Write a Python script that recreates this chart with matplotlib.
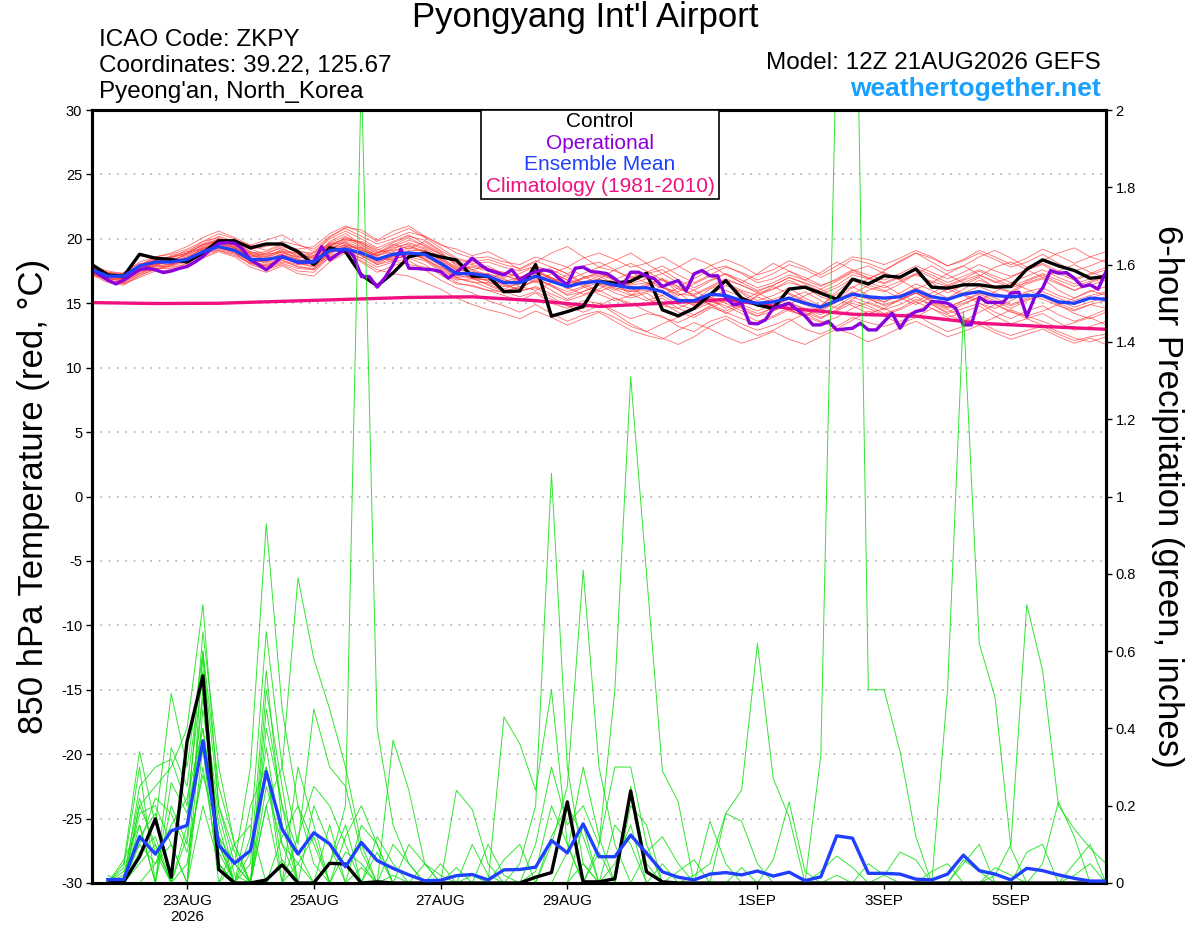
import numpy as np
import matplotlib
matplotlib.use('Agg')
import matplotlib.pyplot as plt
from matplotlib.patches import Rectangle
from matplotlib.ticker import FuncFormatter

plt.rcParams['font.family'] = ['Liberation Sans', 'DejaVu Sans']
plt.rcParams['axes.unicode_minus'] = False

# x axis: hours after 12Z 21AUG2026, 6-hourly out to 384 h
tick_hours = [36, 84, 132, 180, 252, 300, 348]
tick_labels = ['23AUG\n2026', '25AUG', '27AUG', '29AUG', '1SEP', '3SEP', '5SEP']

# 850 hPa temperature (deg C), 6-hourly from hour 0
control_temp = [18.0, 17.2, 17.1, 18.8, 18.5, 18.4, 18.2, 18.9, 19.85, 19.85,
                19.3, 19.6, 19.6, 19.0, 18.0, 19.3, 19.0, 17.2, 16.35, 17.35,
                18.6, 18.9, 18.6, 18.35, 17.1, 17.1, 15.9, 15.95, 18.0, 14.0,
                14.35, 14.75, 16.7, 16.56, 16.7, 17.33, 14.49, 14.02, 14.6, 15.65,
                16.76, 15.39, 14.87, 14.6, 16.1, 16.25, 15.78, 15.31, 16.87, 16.5,
                17.13, 17.02, 17.67, 16.25, 16.17, 16.43, 16.43, 16.25, 16.3, 17.64,
                18.37, 17.9, 17.54, 16.94, 17.07]

mean_temp = [17.6, 17.1, 17.1, 17.9, 18.2, 18.2, 18.4, 19.0, 19.4, 19.1,
             18.4, 18.4, 18.6, 18.2, 18.2, 19.1, 19.2, 18.9, 18.4, 18.8,
             18.9, 18.8, 18.1, 17.3, 17.3, 17.1, 16.6, 16.6, 17.1, 16.7,
             16.3, 16.6, 16.7, 16.4, 16.2, 16.2, 15.9, 15.2, 15.2, 15.7,
             15.6, 15.2, 15.0, 15.1, 15.4, 15.0, 14.7, 15.2, 15.7, 15.5,
             15.4, 15.5, 16.0, 15.5, 15.3, 15.7, 15.9, 15.6, 15.5, 15.6,
             15.6, 15.1, 15.0, 15.4, 15.3]

# operational run is 3-hourly
oper_temp = [17.59, 17.2, 16.8, 16.5, 16.8, 17.2, 17.6, 17.72, 17.6, 17.38,
             17.5, 17.7, 17.85, 18.2, 18.63, 19.2, 19.66, 19.7, 19.66, 19.2,
             18.37, 18.0, 17.59, 18.1, 18.63, 18.4, 18.16, 18.2, 18.24, 19.4,
             18.37, 18.8, 19.2, 18.7, 17.07, 17.07, 16.25, 17.0, 18.0, 19.2,
             17.72, 17.7, 17.64, 17.6, 17.46, 16.95, 17.4, 17.9, 18.5, 18.0,
             17.59, 17.4, 17.2, 17.6, 16.8, 17.2, 17.46, 17.59, 17.46, 16.9,
             16.43, 17.72, 17.8, 17.46, 17.4, 17.3, 16.9, 16.35, 17.41, 17.41,
             17.1, 16.9, 16.3, 16.55, 16.76, 15.96, 17.28, 17.54, 17.13, 17.13,
             15.39, 14.87, 15.0, 13.45, 13.4, 13.71, 14.62, 14.8, 15.0, 14.5,
             14.02, 13.32, 13.32, 13.58, 12.93, 13.0, 13.06, 13.45, 12.93, 12.93,
             13.58, 14.23, 13.06, 13.97, 14.36, 14.49, 15.13, 15.1, 15.0, 14.62,
             13.32, 13.32, 15.47, 15.06, 15.06, 15.06, 15.78, 15.86, 13.97, 15.47,
             16.17, 17.54, 17.33, 17.38, 16.94, 16.3, 16.43, 16.09, 17.46]

# climatology, daily
clim_temp = [15.05, 14.98, 15.0, 15.15, 15.3, 15.45, 15.5, 15.2, 14.75,
             15.0, 15.3, 14.6, 14.15, 14.0, 13.45, 13.2, 12.98]

member_temps = [
    [17.5, 17.0, 16.8, 17.6, 18.0, 18.3, 18.8, 19.6, 20.2, 19.8, 19.0, 18.6, 19.2, 18.8, 18.5, 19.8, 20.4, 19.6, 18.8, 19.5,
     20.1, 19.4, 18.8, 18.0, 17.6, 17.9, 17.2, 16.8, 17.5, 16.9, 16.2, 17.0, 17.4, 16.8, 16.0, 16.5, 16.9, 15.8, 15.0, 15.6,
     16.4, 15.9, 15.2, 15.6, 16.2, 15.4, 14.8, 15.9, 16.8, 16.2, 15.9, 16.5, 17.3, 16.6, 15.8, 16.4, 17.0, 16.2, 15.8, 16.5,
     16.9, 16.0, 15.4, 15.9, 16.3],
    [17.2, 16.6, 16.4, 17.2, 17.6, 17.9, 18.2, 18.8, 19.2, 18.9, 18.0, 17.6, 18.0, 17.5, 17.4, 18.6, 19.0, 18.5, 17.8, 18.2,
     18.5, 18.0, 17.2, 16.5, 16.4, 16.0, 15.6, 15.2, 15.8, 15.0, 14.6, 15.2, 15.0, 14.4, 13.8, 14.2, 14.0, 13.2, 12.8, 13.6,
     14.0, 13.4, 12.9, 13.3, 13.8, 13.0, 12.6, 13.2, 13.9, 13.5, 13.2, 13.6, 14.1, 13.4, 12.8, 13.2, 13.6, 12.9, 12.5, 12.9,
     13.2, 12.6, 12.1, 12.4, 12.6],
    [17.8, 17.4, 17.3, 18.2, 18.6, 18.8, 19.2, 19.8, 20.1, 19.7, 19.2, 19.4, 19.8, 19.5, 19.2, 20.2, 20.8, 20.2, 19.6, 20.0,
     20.5, 20.2, 19.6, 18.9, 18.5, 18.6, 18.2, 18.0, 18.6, 18.2, 17.8, 18.5, 18.9, 18.4, 17.8, 18.1, 18.6, 17.9, 17.2, 17.9,
     18.4, 17.9, 17.2, 17.6, 18.3, 17.8, 17.2, 17.9, 18.6, 18.4, 18.0, 18.5, 19.1, 18.6, 17.9, 18.3, 18.9, 18.4, 17.8, 18.2,
     18.8, 18.1, 17.5, 17.9, 18.4],
    [17.6, 17.2, 16.9, 17.5, 18.1, 18.0, 18.5, 19.3, 19.9, 19.4, 18.5, 17.8, 18.2, 17.9, 17.6, 18.8, 19.4, 19.2, 18.6, 18.3,
     18.0, 17.8, 17.4, 16.8, 16.9, 16.5, 16.0, 16.2, 16.8, 16.4, 15.6, 15.9, 16.4, 16.9, 16.3, 15.4, 14.8, 14.6, 15.2, 16.1,
     16.6, 15.8, 14.9, 14.4, 14.9, 15.6, 16.1, 15.4, 14.8, 14.2, 14.6, 15.3, 15.8, 15.1, 14.6, 15.0, 15.5, 14.9, 14.3, 14.0,
     14.4, 14.9, 14.2, 13.8, 14.3],
    [17.9, 17.3, 17.2, 17.8, 17.9, 18.4, 18.1, 18.9, 19.6, 19.3, 18.7, 18.9, 19.3, 18.6, 18.9, 19.5, 19.0, 18.5, 18.9, 19.6,
     19.2, 19.8, 19.0, 17.9, 17.0, 16.8, 17.4, 17.1, 16.6, 17.3, 17.8, 17.1, 16.5, 16.0, 16.6, 17.2, 16.4, 15.6, 16.0, 15.3,
     14.6, 15.2, 15.8, 15.2, 14.5, 14.0, 14.8, 15.7, 16.3, 15.6, 15.1, 15.8, 16.5, 16.0, 15.4, 16.1, 16.8, 16.3, 15.9, 16.7,
     17.2, 16.6, 16.0, 16.6, 17.0],
    [17.4, 16.8, 16.5, 17.0, 17.5, 17.6, 17.9, 18.5, 19.0, 18.6, 17.8, 17.4, 17.9, 17.3, 17.1, 18.2, 18.9, 18.2, 17.4, 17.9,
     18.3, 17.6, 16.8, 16.2, 15.8, 15.2, 14.8, 14.3, 14.9, 14.2, 13.6, 14.1, 14.4, 13.9, 13.2, 12.8, 13.4, 13.9, 14.6, 15.2,
     14.8, 14.2, 13.6, 14.0, 14.7, 14.3, 13.8, 14.5, 15.2, 14.8, 14.2, 14.6, 15.3, 14.9, 14.2, 14.6, 15.0, 14.3, 13.8, 14.4,
     14.8, 14.1, 13.6, 14.0, 14.5],
    [17.7, 17.1, 17.0, 17.7, 18.3, 18.4, 18.7, 19.4, 19.9, 19.5, 18.8, 18.3, 18.9, 18.6, 18.4, 19.6, 20.0, 19.4, 18.7, 19.2,
     19.7, 19.3, 18.6, 17.7, 17.8, 17.5, 17.0, 17.3, 17.9, 17.4, 16.8, 17.3, 17.8, 17.5, 17.0, 17.4, 17.9, 17.2, 16.6, 17.2,
     17.8, 17.4, 16.8, 17.3, 18.0, 17.6, 17.0, 17.6, 18.4, 18.1, 17.6, 18.2, 18.9, 18.5, 17.9, 18.4, 19.1, 18.6, 18.0, 18.5,
     19.2, 18.7, 18.1, 18.6, 19.0],
    [17.5, 16.9, 16.7, 17.4, 17.8, 18.1, 18.6, 19.2, 19.5, 19.0, 18.2, 18.0, 18.4, 17.8, 17.7, 19.0, 19.6, 19.1, 18.5, 18.9,
     19.0, 18.4, 17.6, 16.9, 16.7, 16.2, 15.8, 15.9, 16.3, 15.7, 15.2, 15.6, 16.0, 15.4, 14.8, 15.0, 15.4, 14.6, 14.1, 14.8,
     15.3, 14.7, 14.2, 14.6, 15.1, 14.5, 13.9, 14.4, 15.0, 14.6, 14.1, 14.5, 15.1, 14.6, 13.9, 14.3, 14.8, 14.0, 13.4, 13.8,
     14.2, 13.5, 12.9, 13.2, 13.6],
    [17.6, 17.0, 17.2, 18.0, 18.4, 18.2, 18.9, 19.5, 20.0, 19.6, 18.9, 18.5, 19.0, 18.9, 18.6, 19.4, 19.9, 19.8, 19.2, 18.8,
     19.3, 19.0, 18.4, 17.6, 16.9, 17.3, 16.9, 16.3, 16.0, 16.6, 17.2, 16.5, 15.9, 16.4, 17.1, 16.6, 15.8, 15.2, 14.9, 15.5,
     15.0, 14.4, 14.0, 14.7, 15.4, 15.9, 15.2, 14.6, 15.3, 16.0, 16.4, 15.7, 15.1, 15.8, 16.4, 15.7, 15.2, 15.9, 16.6, 16.1,
     15.5, 14.9, 15.4, 16.0, 15.6],
    [17.3, 16.8, 16.6, 17.3, 17.9, 17.8, 18.0, 18.6, 19.1, 18.8, 18.1, 17.9, 18.3, 18.0, 18.1, 19.3, 19.7, 19.0, 18.2, 18.6,
     19.1, 19.1, 18.3, 17.4, 17.2, 16.9, 16.4, 16.1, 16.9, 16.4, 15.9, 16.3, 16.8, 16.1, 15.6, 15.9, 16.3, 15.4, 14.8, 15.4,
     16.0, 15.5, 15.0, 15.3, 15.8, 15.2, 14.5, 15.1, 15.8, 15.4, 15.1, 15.6, 16.2, 15.6, 15.2, 15.8, 16.3, 15.8, 15.4, 15.9,
     16.2, 15.6, 15.2, 15.6, 15.9],
    [17.8, 17.2, 16.9, 17.5, 18.2, 18.5, 18.9, 19.8, 20.4, 20.0, 19.2, 18.8, 19.4, 19.0, 18.9, 20.0, 20.6, 20.0, 19.3, 19.8,
     20.3, 19.6, 18.9, 18.1, 17.6, 17.2, 16.5, 16.0, 16.2, 15.5, 14.8, 14.6, 15.0, 14.2, 13.4, 12.8, 12.3, 11.8, 12.4, 13.2,
     13.8, 13.1, 12.5, 12.9, 13.6, 14.2, 13.6, 13.0, 13.7, 14.4, 14.0, 13.4, 13.9, 14.6, 14.1, 13.6, 14.3, 14.9, 14.4, 13.8,
     13.3, 12.8, 12.3, 12.0, 12.4],
    [17.4, 17.0, 16.9, 17.8, 18.3, 18.1, 18.3, 19.1, 19.7, 19.3, 18.6, 18.8, 19.0, 18.4, 18.3, 19.3, 19.5, 18.8, 18.1, 18.7,
     18.7, 18.6, 18.0, 17.1, 17.4, 17.3, 16.8, 16.6, 17.2, 16.9, 16.5, 16.9, 17.2, 16.8, 16.5, 16.9, 17.3, 16.6, 16.0, 16.7,
     17.3, 16.8, 16.2, 16.6, 17.2, 16.8, 16.3, 16.9, 17.6, 17.2, 16.8, 17.3, 17.9, 17.4, 16.9, 17.4, 18.0, 17.5, 17.1, 17.6,
     18.0, 17.3, 16.8, 17.2, 17.6],
    [17.7, 17.3, 17.0, 17.6, 18.0, 18.2, 18.5, 19.0, 19.3, 19.1, 18.5, 18.1, 18.5, 18.3, 18.2, 19.2, 19.8, 19.3, 18.5, 18.4,
     18.8, 18.7, 17.9, 17.0, 16.6, 16.6, 16.3, 16.5, 17.0, 16.3, 15.7, 16.2, 16.6, 16.2, 15.9, 16.0, 15.6, 14.9, 14.5, 15.0,
     15.4, 14.9, 14.4, 14.9, 15.3, 14.9, 14.4, 15.1, 15.7, 15.3, 14.9, 15.3, 15.8, 15.2, 14.7, 15.2, 15.7, 15.2, 14.8, 15.3,
     15.6, 15.0, 14.5, 14.9, 15.2],
    [17.6, 17.1, 17.0, 17.8, 18.4, 18.6, 18.9, 19.5, 20.0, 19.5, 18.9, 19.0, 19.5, 19.2, 19.4, 20.4, 21.0, 20.5, 19.8, 20.3,
     20.8, 20.1, 19.3, 18.5, 18.2, 18.4, 18.0, 17.7, 18.3, 17.8, 17.3, 17.9, 18.2, 17.6, 16.9, 17.3, 17.6, 16.8, 16.2, 16.8,
     17.3, 16.6, 16.0, 16.4, 17.0, 16.5, 15.9, 16.4, 17.2, 16.9, 16.5, 17.0, 17.6, 17.0, 16.4, 16.9, 17.5, 16.9, 16.3, 16.8,
     17.3, 16.8, 16.3, 16.7, 17.1],
    [17.3, 16.9, 16.8, 17.6, 17.9, 18.0, 18.3, 18.9, 19.3, 18.9, 18.3, 18.2, 18.8, 18.4, 18.0, 19.0, 19.3, 18.7, 18.0, 18.5,
     18.6, 18.3, 17.5, 16.6, 16.3, 16.0, 15.9, 16.3, 16.7, 16.0, 15.3, 15.9, 16.4, 15.8, 15.4, 15.8, 15.0, 14.3, 13.9, 14.6,
     15.2, 14.6, 14.0, 14.4, 15.0, 14.6, 14.1, 14.8, 15.5, 15.0, 14.5, 14.9, 15.5, 14.9, 14.3, 14.9, 15.5, 15.1, 14.6, 15.2,
     15.7, 15.2, 14.7, 15.1, 15.5],
    [17.8, 17.4, 17.2, 18.0, 18.5, 18.6, 18.8, 19.3, 19.6, 19.2, 18.6, 18.6, 19.0, 18.5, 18.7, 19.6, 19.7, 19.1, 18.7, 19.3,
     19.6, 19.2, 18.4, 17.6, 17.5, 17.1, 16.7, 17.0, 17.6, 17.0, 16.5, 17.0, 17.3, 16.9, 16.4, 16.6, 16.2, 15.7, 15.6, 16.2,
     16.8, 16.4, 15.8, 16.1, 16.6, 16.3, 15.7, 16.2, 16.9, 16.6, 16.2, 16.7, 17.2, 16.7, 16.3, 16.8, 17.2, 16.7, 16.2, 16.6,
     17.0, 16.5, 16.0, 16.4, 16.8],
    [17.2, 16.9, 17.4, 18.1, 18.0, 18.7, 19.0, 19.2, 19.8, 19.9, 19.5, 19.9, 20.3, 19.6, 19.0, 20.1, 20.9, 20.7, 19.9, 20.6,
     21.0, 20.2, 19.5, 19.2, 18.7, 19.0, 18.4, 17.6, 18.2, 18.9, 19.4, 18.6, 17.8, 18.3, 18.9, 18.1, 17.3, 17.8, 18.5, 18.0,
     17.2, 16.6, 17.3, 18.1, 17.5, 16.8, 17.4, 18.2, 17.6, 16.9, 17.5, 18.3, 18.9, 18.2, 17.5, 17.9, 18.6, 19.1, 18.5, 17.8,
     18.3, 18.9, 19.3, 18.6, 18.2],
    [17.5, 17.0, 16.6, 17.3, 17.7, 17.9, 18.4, 18.9, 19.1, 18.7, 18.1, 17.7, 18.1, 17.7, 17.6, 18.6, 19.0, 18.3, 17.6, 17.3,
     17.1, 16.6, 16.1, 15.4, 14.9, 14.5, 14.2, 13.8, 14.4, 13.9, 13.3, 13.8, 14.3, 13.6, 12.9, 12.5, 12.2, 12.9, 13.5, 13.0,
     12.4, 11.9, 12.3, 12.8, 12.2, 11.8, 12.4, 13.0, 12.6, 12.0, 12.5, 13.1, 13.6, 13.0, 12.4, 12.8, 13.3, 12.7, 12.2, 12.6,
     13.0, 12.4, 11.9, 12.3, 11.8],
    [17.9, 17.5, 17.3, 17.9, 18.6, 18.9, 19.4, 20.1, 20.6, 20.1, 19.5, 19.1, 19.6, 19.1, 18.7, 19.7, 20.2, 19.5, 18.9, 19.4,
     19.9, 19.5, 18.8, 18.2, 18.0, 17.7, 17.4, 17.0, 17.3, 17.6, 17.0, 16.3, 15.7, 15.2, 15.6, 16.4, 16.9, 16.3, 15.5, 14.9,
     14.2, 14.8, 15.6, 16.3, 15.7, 15.1, 14.7, 15.4, 16.2, 16.9, 17.4, 16.8, 16.1, 16.6, 17.3, 17.9, 17.2, 16.6, 17.0, 17.6,
     18.1, 17.5, 16.9, 17.3, 17.8],
    [17.4, 16.9, 16.9, 17.5, 17.6, 18.0, 18.5, 19.0, 19.6, 19.4, 18.4, 18.2, 18.7, 18.1, 17.9, 18.7, 19.1, 18.7, 18.0, 18.3,
     18.9, 18.5, 17.7, 17.0, 17.1, 16.7, 16.1, 16.6, 17.4, 17.0, 16.2, 15.7, 16.1, 16.8, 17.4, 16.9, 16.2, 15.9, 16.5, 17.1,
     16.6, 16.0, 15.6, 16.1, 16.8, 16.2, 15.5, 15.1, 15.7, 16.4, 16.0, 15.4, 14.9, 15.5, 16.1, 15.6, 15.0, 14.6, 15.2, 15.8,
     15.3, 14.8, 14.4, 14.9, 14.6],
    [17.6, 17.2, 17.1, 17.7, 18.2, 18.3, 18.6, 19.2, 19.8, 19.6, 19.0, 18.7, 19.1, 18.7, 18.5, 19.5, 20.0, 19.7, 19.0, 19.1,
     19.4, 19.1, 18.5, 17.8, 17.9, 17.6, 17.2, 16.7, 17.2, 17.8, 17.3, 16.6, 16.9, 17.6, 18.1, 17.5, 16.8, 16.3, 16.9, 17.6,
     17.9, 17.3, 16.6, 16.9, 17.5, 17.0, 16.4, 16.8, 17.5, 17.9, 17.3, 16.8, 17.3, 17.9, 17.2, 16.6, 17.1, 17.8, 18.2, 17.6,
     17.0, 17.5, 18.0, 17.4, 17.0],
    [17.3, 16.7, 16.5, 17.1, 17.7, 17.7, 18.1, 18.8, 19.4, 19.0, 18.2, 17.9, 18.5, 18.1, 17.8, 18.9, 19.5, 19.3, 18.7, 19.0,
     19.5, 18.9, 18.2, 17.5, 17.0, 16.4, 15.9, 15.5, 15.9, 15.3, 14.8, 14.3, 14.8, 15.4, 15.0, 14.4, 13.9, 13.5, 14.1, 14.7,
     14.3, 13.8, 13.4, 13.9, 14.5, 14.0, 13.5, 13.9, 14.6, 15.1, 14.6, 14.0, 14.4, 15.0, 14.5, 13.9, 13.4, 13.9, 14.5, 14.0,
     13.6, 13.1, 13.5, 13.9, 13.3],
    [17.7, 17.2, 16.9, 17.5, 18.3, 18.6, 19.1, 19.6, 19.8, 19.3, 18.8, 18.4, 18.8, 18.3, 18.3, 19.4, 20.1, 19.7, 19.1, 19.7,
     20.2, 19.9, 19.1, 18.4, 18.1, 18.2, 17.8, 17.5, 17.9, 17.4, 16.8, 16.4, 16.9, 16.4, 15.9, 16.3, 16.8, 16.1, 15.7, 16.3,
     16.9, 16.4, 15.9, 16.4, 17.0, 16.6, 16.1, 16.7, 17.4, 17.0, 16.6, 17.1, 17.7, 17.2, 16.6, 17.1, 17.6, 17.1, 16.6, 17.1,
     17.6, 17.0, 16.5, 16.9, 17.3],
    [17.5, 17.1, 17.0, 17.7, 18.1, 18.2, 18.4, 18.9, 19.4, 19.2, 18.5, 18.3, 18.6, 18.2, 18.0, 18.9, 19.4, 18.9, 18.3, 18.6,
     18.9, 18.4, 17.8, 17.2, 16.9, 16.8, 16.5, 16.9, 17.5, 16.9, 16.1, 16.6, 17.1, 16.5, 15.7, 15.2, 15.6, 16.2, 15.6, 14.9,
     14.4, 14.9, 15.5, 15.0, 14.4, 14.0, 14.6, 15.3, 15.9, 15.4, 14.8, 15.2, 15.8, 15.3, 14.7, 15.2, 15.8, 15.4, 14.9, 15.4,
     15.9, 15.4, 14.9, 15.4, 15.8],
]

# 6-hour precipitation (inches), steps 1..64 (hour 6 .. 384)
control_precip = [0.0, 0.003, 0.068, 0.166, 0.015, 0.366, 0.536, 0.035, 0.0, 0.0,
                  0.008, 0.047, 0.0, 0.0, 0.051, 0.049, 0.0, 0.003, 0.0, 0.0,
                  0.0, 0.0, 0.0, 0.0, 0.0, 0.0, 0.0, 0.015, 0.027, 0.21,
                  0.003, 0.003, 0.011, 0.238, 0.029, 0.003, 0.0, 0.0, 0.0, 0.0,
                  0.0, 0.0, 0.0, 0.0, 0.0, 0.0, 0.0, 0.0, 0.0, 0.0,
                  0.0, 0.0, 0.0, 0.0, 0.0, 0.0, 0.0, 0.0, 0.0, 0.0,
                  0.0, 0.0, 0.0, 0.0]

mean_precip = [0.009, 0.009, 0.12, 0.075, 0.135, 0.149, 0.368, 0.098, 0.051, 0.084,
               0.288, 0.139, 0.075, 0.13, 0.101, 0.042, 0.105, 0.058, 0.038, 0.021,
               0.006, 0.007, 0.019, 0.022, 0.008, 0.034, 0.035, 0.041, 0.11, 0.078,
               0.153, 0.068, 0.068, 0.124, 0.077, 0.029, 0.015, 0.008, 0.023, 0.027,
               0.021, 0.031, 0.018, 0.028, 0.006, 0.016, 0.122, 0.116, 0.025, 0.025,
               0.023, 0.010, 0.008, 0.023, 0.072, 0.032, 0.023, 0.008, 0.038, 0.032,
               0.021, 0.012, 0.005, 0.005]

# members: {step: precip}, steps not listed are dry
member_precip = [
    {15: 0.05, 16: 0.2, 17: 2.1, 18: 0.4, 19: 0.15, 20: 0.05},
    {46: 0.33, 47: 2.2, 48: 3.0, 49: 0.5, 50: 0.5, 51: 0.34, 52: 0.12},
    {54: 0.5, 55: 1.48, 56: 0.62, 57: 0.48, 58: 0.09},
    {40: 0.18, 41: 0.24, 42: 0.62, 43: 0.27, 44: 0.17},
    {57: 0.02, 58: 0.1, 59: 0.72, 60: 0.55, 61: 0.2, 62: 0.14, 63: 0.09, 64: 0.05},
    {32: 0.1, 33: 0.5, 34: 1.31, 35: 0.8, 36: 0.29, 37: 0.21},
    {27: 0.05, 28: 0.2, 29: 1.06, 30: 0.3, 31: 0.05},
    {29: 0.1, 30: 0.25, 31: 0.81, 32: 0.3, 33: 0.1},
    {9: 0.05, 10: 0.3, 11: 0.93, 12: 0.45, 13: 0.2, 14: 0.05},
    {11: 0.2, 12: 0.3, 13: 0.79, 14: 0.58, 15: 0.45, 16: 0.3, 17: 0.1},
    {3: 0.2, 4: 0.25, 5: 0.3, 6: 0.4, 7: 0.72, 8: 0.2, 9: 0.05},
    {2: 0.05, 3: 0.34, 4: 0.15, 5: 0.49, 6: 0.3, 7: 0.6, 8: 0.25, 9: 0.1, 10: 0.15},
    {3: 0.25, 4: 0.3, 5: 0.32, 6: 0.2, 7: 0.55, 8: 0.1, 11: 0.4, 12: 0.2, 19: 0.37, 20: 0.24, 21: 0.05},
    {3: 0.12, 4: 0.18, 7: 0.45, 8: 0.15, 10: 0.12, 11: 0.65, 12: 0.3, 13: 0.1, 14: 0.45, 15: 0.3, 16: 0.25, 17: 0.08},
    {2: 0.03, 3: 0.1, 4: 0.05, 5: 0.15, 6: 0.22, 7: 0.4, 8: 0.12, 9: 0.05, 11: 0.25, 12: 0.1, 13: 0.05,
     16: 0.08, 17: 0.05, 23: 0.24, 24: 0.19, 25: 0.05},
    {3: 0.15, 5: 0.2, 6: 0.1, 7: 0.5, 8: 0.08, 11: 0.45, 12: 0.2, 13: 0.08, 15: 0.15, 18: 0.12, 19: 0.05,
     26: 0.43, 27: 0.36, 28: 0.24, 29: 0.5, 30: 0.1},
    {3: 0.08, 4: 0.12, 6: 0.05, 7: 0.3, 8: 0.05, 10: 0.08, 11: 0.35, 12: 0.1, 14: 0.2, 15: 0.1, 22: 0.05,
     24: 0.1, 25: 0.02, 28: 0.1, 29: 0.3, 30: 0.15, 31: 0.2, 32: 0.1, 33: 0.3, 34: 0.3, 35: 0.1},
    {4: 0.05, 5: 0.1, 7: 0.35, 9: 0.1, 11: 0.5, 12: 0.25, 17: 0.15, 18: 0.1, 20: 0.1, 21: 0.05, 30: 0.08,
     31: 0.3, 32: 0.12, 34: 0.2, 35: 0.15, 39: 0.16, 40: 0.05, 50: 0.02, 51: 0.08, 52: 0.06},
    {3: 0.2, 4: 0.1, 6: 0.15, 7: 0.65, 8: 0.3, 9: 0.1, 13: 0.12, 14: 0.25, 15: 0.2, 16: 0.1, 38: 0.02,
     39: 0.05, 40: 0.18, 41: 0.16, 42: 0.05, 55: 0.05, 56: 0.1, 60: 0.05, 61: 0.21, 62: 0.12},
    {2: 0.04, 3: 0.3, 5: 0.26, 6: 0.18, 7: 0.4, 8: 0.1, 10: 0.05, 11: 0.55, 12: 0.15, 24: 0.02, 33: 0.05,
     34: 0.15, 36: 0.05, 43: 0.06, 44: 0.21, 45: 0.03, 49: 0.05, 50: 0.02, 62: 0.05, 63: 0.1},
    {1: 0.02, 3: 0.18, 4: 0.2, 5: 0.1, 7: 0.2, 8: 0.05, 12: 0.06, 16: 0.12, 17: 0.2, 18: 0.1, 21: 0.05,
     22: 0.02, 28: 0.03, 29: 0.2, 30: 0.1, 32: 0.08, 46: 0.03, 47: 0.07, 48: 0.04, 55: 0.06, 56: 0.03},
    {3: 0.05, 4: 0.1, 7: 0.6, 8: 0.05, 11: 0.3, 13: 0.3, 14: 0.15, 19: 0.1, 20: 0.05, 31: 0.15, 34: 0.25,
     35: 0.05, 59: 0.08, 60: 0.1, 62: 0.02, 63: 0.05},
    {2: 0.02, 3: 0.22, 4: 0.08, 6: 0.12, 7: 0.48, 8: 0.18, 9: 0.02, 12: 0.12, 13: 0.2, 14: 0.1, 17: 0.04,
     26: 0.06, 27: 0.1, 37: 0.03, 38: 0.06, 47: 0.02, 57: 0.04, 58: 0.02},
    {3: 0.1, 4: 0.22, 5: 0.18, 6: 0.08, 7: 0.28, 8: 0.12, 10: 0.2, 11: 0.3, 12: 0.05, 15: 0.05, 16: 0.15,
     18: 0.08, 23: 0.04, 25: 0.1, 26: 0.02, 31: 0.05, 33: 0.15, 34: 0.1, 41: 0.04, 53: 0.03, 54: 0.05},
    {2: 0.06, 3: 0.15, 5: 0.35, 6: 0.25, 7: 0.58, 8: 0.2, 9: 0.08, 11: 0.2, 13: 0.05, 14: 0.12, 19: 0.02,
     29: 0.12, 30: 0.2, 31: 0.12, 35: 0.08, 36: 0.12, 37: 0.05},
]

legend_items = [('Control', 'black'), ('Operational', '#8a00dd'),
                ('Ensemble Mean', '#2040ff'), ('Climatology (1981-2010)', '#f0107f')]

# ---------------------------------------------------------------
fig = plt.figure(figsize=(12, 9.27), dpi=100)
ax = fig.add_axes([92 / 1200, 44 / 927, 1014 / 1200, 773 / 927])
ax2 = ax.twinx()

for m in member_temps:
    ax.plot(6 * np.arange(len(m)), m, color='#ff3030', lw=0.6, alpha=0.7, zorder=2)

ax.plot(24 * np.arange(len(clim_temp)), clim_temp, color='#f0107f', lw=2.4, zorder=4)
ax.plot(6 * np.arange(len(control_temp)), control_temp, color='black', lw=2.4, zorder=5)
ax.plot(3 * np.arange(len(oper_temp)), oper_temp, color='#8a00dd', lw=2.4, zorder=6)
ax.plot(6 * np.arange(len(mean_temp)), mean_temp, color='#2040ff', lw=2.4, zorder=7)

for d in member_precip:
    p = np.zeros(64)
    for k, v in d.items():
        p[k - 1] = v
    ax2.plot(6 * np.arange(1, 65), p, color='#10e010', lw=0.7, alpha=0.85, zorder=2)

ax2.plot(6 * np.arange(1, len(control_precip) + 1), control_precip, color='black', lw=2.4, zorder=5)
ax2.plot(6 * np.arange(1, len(mean_precip) + 1), mean_precip, color='#2040ff', lw=2.4, zorder=6)

ax.set_xlim(0, 384)
ax.set_ylim(-30, 30)
ax2.set_ylim(0, 2)
ax.set_yticks(np.arange(-30, 31, 5))
ax2.set_yticks(np.arange(0, 2.01, 0.2))
ax2.yaxis.set_major_formatter(FuncFormatter(lambda v, _: '%g' % round(v, 1)))
ax.set_xticks(tick_hours)
ax.set_xticklabels(tick_labels, fontsize=11)

ax.grid(axis='y', color='#b0b0b0', linestyle=(0, (1, 4)), lw=1.2)
ax.tick_params(axis='y', direction='out', length=4, width=1, labelsize=10.5, pad=3)
ax.tick_params(axis='x', direction='out', length=4, width=1, pad=4)
ax2.tick_params(axis='y', direction='out', length=4, width=1, labelsize=10.5, pad=3)
for a in (ax, ax2):
    for s in a.spines.values():
        s.set_linewidth(2.2)

# legend box
ax2.add_patch(Rectangle((0.3833, 0.8849), 0.235, 0.1151, transform=ax2.transAxes,
                        facecolor='white', edgecolor='black', lw=1.2, zorder=20))
for i, (txt, col) in enumerate(legend_items):
    ax2.text(0.501, 0.9855 - i * 0.0282, txt, color=col, fontsize=15,
             ha='center', va='center', transform=ax2.transAxes, zorder=21)

ax.set_ylabel('850 hPa Temperature (red, °C)', fontsize=25, va='center')
ax.yaxis.set_label_coords(-0.058, 0.5)
ax2.set_ylabel('6-hour Precipitation (green, inches)', fontsize=25, rotation=270, va='center')
ax2.yaxis.set_label_coords(1.061, 0.5)

fig.text(585 / 1200, 1 - 18 / 927, "Pyongyang Int'l Airport", fontsize=25, ha='center', va='center')
fig.text(99 / 1200, 1 - 40 / 927, 'ICAO Code: ZKPY', fontsize=17.5, ha='left', va='center')
fig.text(99 / 1200, 1 - 66 / 927, 'Coordinates: 39.22, 125.67', fontsize=17.5, ha='left', va='center')
fig.text(99 / 1200, 1 - 92 / 927, "Pyeong'an, North_Korea", fontsize=17.5, ha='left', va='center')
fig.text(1101 / 1200, 1 - 63 / 927, 'Model: 12Z 21AUG2026 GEFS', fontsize=17.5, ha='right', va='center')
fig.text(1101 / 1200, 1 - 89 / 927, 'weathertogether.net', fontsize=19, ha='right', va='center',
         color='#1aa0ff', fontweight='bold')

fig.savefig('out.png', dpi=100)
